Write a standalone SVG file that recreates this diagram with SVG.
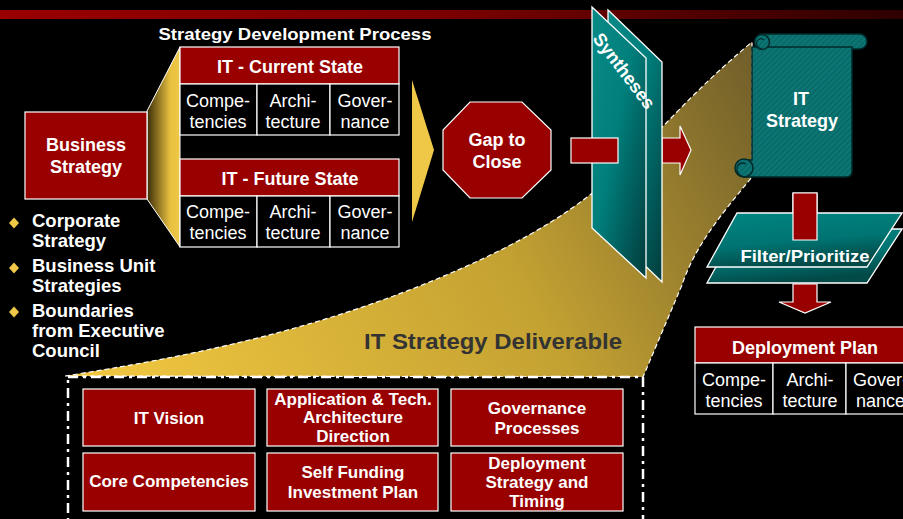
<svg xmlns="http://www.w3.org/2000/svg" width="903" height="519" viewBox="0 0 903 519">
<defs>
<style>
.t{fill:#fff;font-family:"Liberation Sans",Arial,sans-serif;text-anchor:middle}
.b{font-weight:bold}
.f18{font-size:18px}
.f16{font-size:17px}
.red{fill:#990000;stroke:#fff;stroke-width:1.2}
.cell{fill:#000;stroke:#fff;stroke-width:1.2}
.teal{stroke:#fff;stroke-width:1.3}
</style>
<linearGradient id="bar" x1="0" y1="0" x2="1" y2="0">
<stop offset="0" stop-color="#9a0000"/><stop offset="0.5" stop-color="#7a0000"/><stop offset="1" stop-color="#2e0000"/>
</linearGradient>
<linearGradient id="funnel" x1="0" y1="0" x2="1" y2="0">
<stop offset="0" stop-color="#3a2c08"/><stop offset="0.7" stop-color="#e8c040"/><stop offset="1" stop-color="#f0c848"/>
</linearGradient>
<linearGradient id="gold" gradientUnits="userSpaceOnUse" x1="120" y1="400" x2="760" y2="40">
<stop offset="0" stop-color="#f0c640"/><stop offset="0.55" stop-color="#c4a232"/><stop offset="1" stop-color="#6e5c2a"/>
</linearGradient>
<linearGradient id="panel" x1="0" y1="0" x2="1" y2="1">
<stop offset="0" stop-color="#0a8a86"/><stop offset="0.45" stop-color="#007f7c"/><stop offset="1" stop-color="#023c3c"/>
</linearGradient>
<linearGradient id="flt" x1="0" y1="0" x2="0.3" y2="1">
<stop offset="0" stop-color="#008582"/><stop offset="0.6" stop-color="#007472"/><stop offset="1" stop-color="#024a48"/>
</linearGradient>
<pattern id="hatch" width="4" height="4" patternUnits="userSpaceOnUse" patternTransform="rotate(45)">
<rect width="4" height="4" fill="#0b7674"/><rect width="1.3" height="4" fill="#0a6462"/>
</pattern>
</defs>
<rect width="903" height="519" fill="#000"/>
<rect x="0" y="10" width="903" height="9" fill="url(#bar)"/>

<g id="deliverable-area">
<path d="M65,376 C180,358 330,330 480,260 C630,190 640,135 752,42 L752,177 C725,210 695,245 682,285 L643,377 Z" fill="url(#gold)" stroke="#fff" stroke-width="1.2" stroke-dasharray="5 3"/>
<text class="t b" x="493" y="349" style="font-size:22px;fill:#333" textLength="258" lengthAdjust="spacingAndGlyphs">IT Strategy Deliverable</text>
<rect x="68" y="377" width="575" height="160" fill="#000" stroke="#fff" stroke-width="2.5" stroke-dasharray="10 5 3 5"/>
</g>

<text class="t b" x="295" y="40" style="font-size:17px" textLength="273" lengthAdjust="spacingAndGlyphs">Strategy Development Process</text>

<g id="connectors">
<polygon points="147,111 180,47 180,247 147,199" fill="url(#funnel)" stroke="#fff" stroke-width="1"/>
<polygon points="412,80 434,150 412,222" fill="#f0c848"/>
<polygon points="662,138 680,138 680,126 691,150 680,175 680,163 662,163" class="red"/>
<polygon points="793,193 817,193 817,240 793,240" class="red"/>
</g>

<g id="business-strategy">
<rect x="25" y="112" width="122" height="87" class="red"/>
<text class="t b f18" x="86" y="151">Business</text>
<text class="t b f18" x="86" y="173">Strategy</text>
</g>

<g id="bullets" class="b" style="font-size:18.5px">
<g fill="#f0c848">
<polygon points="14,217.5 19,223 14,228.5 9,223"/>
<polygon points="14,262.5 19,268 14,273.5 9,268"/>
<polygon points="14,306.5 19,312 14,317.5 9,312"/>
</g>
<g class="t" style="text-anchor:start">
<text x="32" y="227">Corporate</text>
<text x="32" y="247">Strategy</text>
<text x="32" y="272">Business Unit</text>
<text x="32" y="292">Strategies</text>
<text x="32" y="317">Boundaries</text>
<text x="32" y="337">from Executive</text>
<text x="32" y="357">Council</text>
</g>
</g>

<g id="it-current-state">
<rect x="180" y="47" width="219" height="37" class="red"/>
<text class="t b f18" x="290" y="73">IT - Current State</text>
<rect x="180" y="84" width="77" height="51" class="cell"/>
<rect x="257" y="84" width="73" height="51" class="cell"/>
<rect x="330" y="84" width="69" height="51" class="cell"/>
<g class="t f18">
<text x="218" y="107">Compe-</text><text x="218" y="128">tencies</text>
<text x="293" y="107">Archi-</text><text x="293" y="128">tecture</text>
<text x="365" y="107">Gover-</text><text x="365" y="128">nance</text>
</g>
</g>

<g id="it-future-state">
<rect x="180" y="159" width="219" height="37" class="red"/>
<text class="t b f18" x="290" y="185">IT - Future State</text>
<rect x="180" y="196" width="77" height="51" class="cell"/>
<rect x="257" y="196" width="73" height="51" class="cell"/>
<rect x="330" y="196" width="69" height="51" class="cell"/>
<g class="t f18">
<text x="218" y="218">Compe-</text><text x="218" y="239">tencies</text>
<text x="293" y="218">Archi-</text><text x="293" y="239">tecture</text>
<text x="365" y="218">Gover-</text><text x="365" y="239">nance</text>
</g>
</g>

<g id="gap-to-close">
<polygon points="470,102 522,102 551,130 551,170 522,198 470,198 443,170 443,130" class="red"/>
<text class="t b f18" x="497" y="146">Gap to</text>
<text class="t b f18" x="497" y="168">Close</text>
</g>

<g id="syntheses">
<polygon points="608,10 662,62 662,282 608,230" fill="url(#panel)" class="teal"/>
<polygon points="592,7 646,58 646,278 592,228" fill="url(#panel)" class="teal"/>
<text class="t b" style="font-size:18px" transform="translate(624,71) rotate(53)" x="0" y="6">Syntheses</text>
<rect x="571" y="138" width="47" height="25" class="red"/>
</g>

<g id="it-strategy">
<rect x="755" y="34" width="112" height="15" rx="7.5" fill="url(#hatch)" stroke="#002a2a" stroke-width="1.5"/>
<path d="M752,47 L852,47 L852,171 Q852,177 846,177 L744,177 L744,160 L752,160 Z" fill="url(#hatch)" stroke="#002a2a" stroke-width="1.5"/>
<circle cx="762" cy="42" r="7.5" fill="url(#hatch)" stroke="#002a2a" stroke-width="1.5"/>
<path d="M762,49 Q755,47 757,41 Q760,37 764,40" fill="none" stroke="#002a2a" stroke-width="1.2"/>
<circle cx="744" cy="168" r="9" fill="url(#hatch)" stroke="#002a2a" stroke-width="1.5"/>
<path d="M744,177 Q736,175 737,167 Q740,161 746,164" fill="none" stroke="#002a2a" stroke-width="1.2"/>
<text class="t b f18" x="801" y="105">IT</text>
<text class="t b f18" x="802" y="127">Strategy</text>
</g>

<g id="filter-prioritize">
<polygon points="737,229 902,229 867,283 707,283" fill="url(#flt)" class="teal"/>
<polygon points="737,213 902,213 867,267 707,267" fill="url(#flt)" class="teal"/>
<polygon points="793,193 817,193 817,240 793,240" class="red"/>
<text class="t b" x="805" y="262" style="font-size:17px" textLength="129" lengthAdjust="spacingAndGlyphs">Filter/Prioritize</text>
<polygon points="793,284 817,284 817,302 831,302 805,313 779,302 793,302" class="red"/>
</g>

<g id="deployment-plan">
<rect x="695" y="327" width="225" height="36" class="red"/>
<text class="t b f18" x="805" y="354">Deployment Plan</text>
<rect x="695" y="363" width="78" height="51" class="cell"/>
<rect x="773" y="363" width="73" height="51" class="cell"/>
<rect x="846" y="363" width="74" height="51" class="cell"/>
<g class="t f18">
<text x="734" y="386">Compe-</text><text x="734" y="407">tencies</text>
<text x="810" y="386">Archi-</text><text x="810" y="407">tecture</text>
<text x="853" y="386" style="text-anchor:start">Gover-</text><text x="856" y="407" style="text-anchor:start">nance</text>
</g>
</g>

<g id="it-vision"><rect x="83" y="389" width="172" height="57" class="red"/><text class="t b f16" x="169" y="424">IT  Vision</text></g>
<g id="app-tech"><rect x="267" y="389" width="171" height="57" class="red"/>
<text class="t b f16" x="353" y="405">Application &amp; Tech.</text><text class="t b f16" x="353" y="423">Architecture</text><text class="t b f16" x="353" y="442">Direction</text></g>
<g id="governance-processes"><rect x="451" y="389" width="172" height="57" class="red"/>
<text class="t b f16" x="537" y="414">Governance</text><text class="t b f16" x="537" y="434">Processes</text></g>
<g id="core-competencies"><rect x="83" y="453" width="172" height="58" class="red"/><text class="t b f16" x="169" y="487">Core Competencies</text></g>
<g id="self-funding"><rect x="267" y="453" width="171" height="58" class="red"/>
<text class="t b f16" x="353" y="478">Self Funding</text><text class="t b f16" x="353" y="498">Investment Plan</text></g>
<g id="deployment-strategy"><rect x="451" y="453" width="172" height="58" class="red"/>
<text class="t b f16" x="537" y="469">Deployment</text><text class="t b f16" x="537" y="488">Strategy and</text><text class="t b f16" x="537" y="507">Timing</text></g>
</svg>
